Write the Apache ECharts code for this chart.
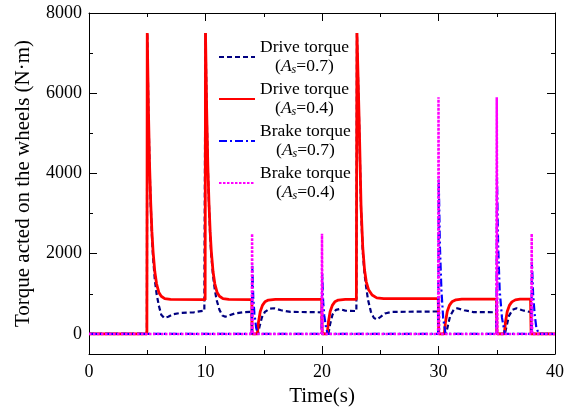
<!DOCTYPE html>
<html>
<head>
<meta charset="utf-8">
<script src="https://cdn.jsdelivr.net/npm/echarts@6/dist/echarts.min.js"></script>
<style>html,body{margin:0;padding:0;background:#fff}#c{width:565px;height:407px}</style>
</head>
<body>
<div id="c"></div>
<script>
// ---- data (time in s, torque in N·m) ----
var xTicks = [0, 10, 20, 30, 40];
var yMajorTicks = [0, 2000, 4000, 6000, 8000];
var yMinorTicks = [1000, 3000, 5000, 7000];

var driveA07 = [
  [0,0],[4.97,0],[5.0,7500],[5.1,5550],[5.2,4150],[5.3,3200],[5.4,2450],[5.5,1900],[5.65,1350],[5.8,1000],[6.0,700],[6.2,480],[6.45,400],[6.8,430],[7.2,490],[7.8,520],[9.0,540],[9.9,580],
  [10.0,7500],[10.1,5550],[10.2,4150],[10.3,3200],[10.4,2450],[10.5,1950],[10.65,1450],[10.8,1100],[10.95,850],[11.2,600],[11.45,460],[11.7,430],[12.0,460],[12.5,510],[13.2,540],[13.97,550],
  [14.0,0],[14.5,0],[14.65,200],[14.85,420],[15.1,550],[15.5,630],[15.9,640],[16.5,590],[17.3,550],[19.97,540],
  [20.0,0],[20.55,0],[20.7,250],[20.9,480],[21.2,600],[21.5,620],[22.0,580],[22.95,570],
  [23.0,7500],[23.1,7500],[23.2,5100],[23.35,3100],[23.5,2050],[23.65,1500],[23.8,1150],[23.95,850],[24.2,550],[24.45,400],[24.7,360],[25.0,420],[25.4,510],[26.0,550],[29.97,560],
  [30.0,0],[30.65,0],[30.8,200],[31.0,450],[31.3,600],[31.6,640],[32.2,590],[33.0,545],[34.97,540],
  [35.0,0],[35.7,0],[35.85,200],[36.05,450],[36.35,600],[36.7,640],[37.2,590],[37.95,540],
  [38.0,0],[40,0]
];
var driveA04 = [
  [0,0],[4.97,0],[5.0,7500],[5.1,5600],[5.2,4200],[5.3,3250],[5.4,2550],[5.5,2050],[5.65,1550],[5.8,1250],[6.0,1030],[6.2,940],[6.5,880],[7.0,860],[9.97,855],
  [10.0,7500],[10.1,5600],[10.2,4200],[10.3,3250],[10.4,2550],[10.5,2050],[10.65,1550],[10.8,1250],[11.0,1030],[11.2,940],[11.5,880],[12.0,860],[13.98,855],
  [14.0,0],[14.45,0],[14.55,300],[14.7,560],[14.9,720],[15.1,800],[15.4,845],[16.0,860],[19.98,860],
  [20.02,0],[20.45,0],[20.55,300],[20.7,560],[20.9,720],[21.1,800],[21.4,845],[22.0,860],[22.95,865],
  [23.0,7500],[23.1,7500],[23.2,5200],[23.35,3200],[23.5,2150],[23.65,1600],[23.8,1300],[24.0,1100],[24.3,970],[24.7,900],[25.3,880],[29.98,880],
  [30.02,0],[30.5,0],[30.6,300],[30.75,560],[30.95,720],[31.15,800],[31.5,850],[32.0,870],[34.98,870],
  [35.02,0],[35.65,0],[35.75,300],[35.9,560],[36.1,720],[36.3,800],[36.6,850],[37.0,870],[37.9,870],
  [37.95,0],[40,0]
];
var brakeA07 = [
  [0,0],[13.97,0],[14.02,1700],[14.1,900],[14.2,500],[14.35,150],[14.5,0],
  [19.97,0],[20.02,1500],[20.1,800],[20.2,450],[20.35,150],[20.5,0],
  [29.97,0],[30.02,3850],[30.12,2200],[30.25,1100],[30.4,400],[30.6,0],
  [34.97,0],[35.02,3900],[35.12,2200],[35.25,1100],[35.45,400],[35.7,0],
  [37.97,0],[38.02,1800],[38.12,1000],[38.25,500],[38.4,150],[38.55,50],[38.7,0],[40,0]
];
var brakeA04 = [
  [0,0],[13.97,0],[14.0,2500],[14.04,0],
  [19.97,0],[20.0,2500],[20.04,0],
  [29.97,0],[30.0,5900],[30.06,0],
  [34.97,0],[35.0,5900],[35.06,0],
  [37.97,0],[38.0,2500],[38.04,0],[40,0]
];
var seriesNames = ['Drive torque A07', 'Drive torque A04', 'Brake torque A07', 'Brake torque A04'];
var legendLine1 = ['Drive torque', 'Drive torque', 'Brake torque', 'Brake torque'];
var legendAs = ['0.7', '0.4', '0.7', '0.4'];

var FONT = 'Liberation Serif';
var chart = echarts.init(document.getElementById('c'));

function mkY(pos, ticks, len, showLine, showLabel) {
  return {
    type: 'value', position: pos, min: -500, max: 8000,
    axisLine: { show: showLine, onZero: false, lineStyle: { color: '#000', width: 1 } },
    axisTick: { show: true, inside: true, length: len, customValues: ticks, lineStyle: { color: '#000' } },
    axisLabel: { show: showLabel, customValues: ticks, fontFamily: FONT, fontSize: 18, color: '#000', margin: 7,
      formatter: function (v) { return String(v); } },
    splitLine: { show: false }
  };
}
function mkX(pos, showLabel) {
  return {
    type: 'value', position: pos, min: 0, max: 40, interval: 10,
    axisLine: { show: true, onZero: false, lineStyle: { color: '#000', width: 1 } },
    axisTick: { show: true, inside: true, length: 8, lineStyle: { color: '#000' } },
    minorTick: { show: true, splitNumber: 2, length: 4, lineStyle: { color: '#000' } },
    axisLabel: { show: showLabel, fontFamily: FONT, fontSize: 18, color: '#000', margin: 9,
      formatter: function (v) { return String(v); } },
    splitLine: { show: false }
  };
}
var xb = mkX('bottom', true);
xb.name = 'Time(s)'; xb.nameLocation = 'middle'; xb.nameGap = 27;
xb.nameTextStyle = { fontFamily: FONT, fontSize: 21, color: '#000' };
var yl = mkY('left', yMajorTicks, 8, true, true);
yl.name = 'Torque acted on the wheels (N\u00b7m)'; yl.nameLocation = 'middle'; yl.nameGap = 55;
yl.nameTextStyle = { fontFamily: FONT, fontSize: 21, color: '#000' };

var styles = [
  { color: '#000080', width: 2.2, type: [5, 3] },
  { color: '#ff0000', width: 2.8, type: 'solid' },
  { color: '#0000ff', width: 2.2, type: [8, 3, 2, 3] },
  { color: '#ff00ff', width: 2.5, type: [2.5, 1.5] }
];
var datas = [driveA07, driveA04, brakeA07, brakeA04];
var series = datas.map(function (d, i) {
  return {
    name: seriesNames[i], type: 'line', data: d, xAxisIndex: 0, yAxisIndex: 0,
    symbol: 'none', showSymbol: false, smooth: false,
    lineStyle: styles[i], itemStyle: { color: styles[i].color },
    z: 2 + i
  };
});

chart.setOption({
  animation: false,
  backgroundColor: '#fff',
  grid: { left: 89, right: 10, top: 13, bottom: 53, containLabel: false, outerBoundsMode: 'none' },
  xAxis: [xb, mkX('top', false)],
  yAxis: [yl, mkY('left', yMinorTicks, 4, false, false), mkY('right', yMajorTicks, 8, true, false), mkY('right', yMinorTicks, 4, false, false)],
  legend: {
    orient: 'vertical', left: 218, top: 38, padding: 0, itemGap: 4, itemWidth: 36, itemHeight: 14,
    itemStyle: { opacity: 0 },
    data: seriesNames,
    formatter: function (name) {
      var i = seriesNames.indexOf(name);
      return '{n|' + legendLine1[i] + '}\n{c|(}{a|A}{s|s}{c|=' + legendAs[i] + ')}';
    },
    textStyle: {
      fontFamily: FONT, fontSize: 17.5, color: '#000', lineHeight: 19,
      rich: {
        n: { fontFamily: FONT, fontSize: 17.5, color: '#000', lineHeight: 19 },
        c: { fontFamily: FONT, fontSize: 17.5, color: '#000', lineHeight: 19, align: 'center' },
        a: { fontFamily: FONT, fontSize: 17.5, color: '#000', lineHeight: 19, fontStyle: 'italic', align: 'center' },
        s: { fontFamily: FONT, fontSize: 12, color: '#000', lineHeight: 19, fontStyle: 'italic', align: 'center', verticalAlign: 'bottom' }
      }
    }
  },
  series: series
});
</script>
</body>
</html>
